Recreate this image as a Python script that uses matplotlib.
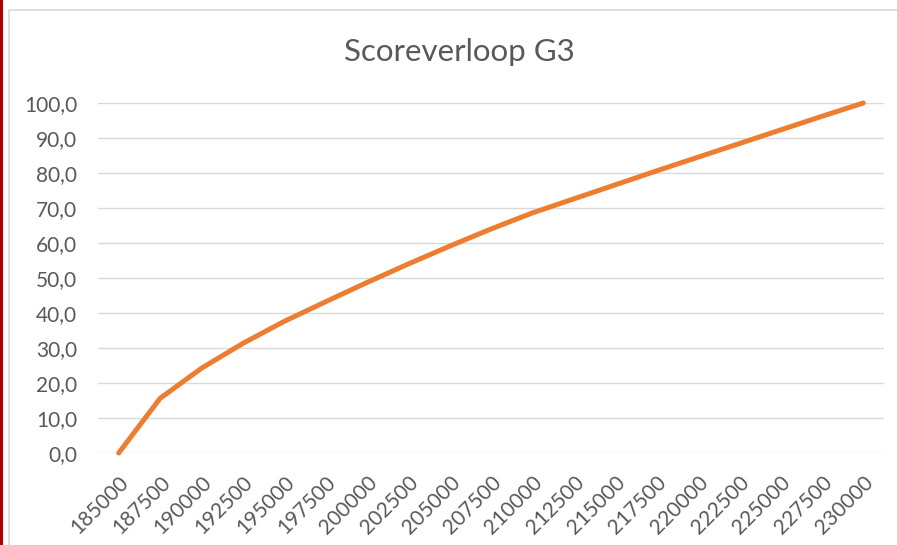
import numpy as np
import matplotlib
matplotlib.use('Agg')
from matplotlib import pyplot as plt
from matplotlib.patches import Rectangle

# Data

categories = [185000, 187500, 190000, 192500, 195000, 197500, 200000, 202500, 205000, 207500,
              210000, 212500, 215000, 217500, 220000, 222500, 225000, 227500, 230000]
scores = [0.0, 15.6, 24.2, 31.3, 37.6, 43.2, 48.7, 54.0, 59.1, 64.0,
          68.6, 72.6, 76.6, 80.6, 84.5, 88.4, 92.3, 96.2, 100.0]
y_ticks = [0, 10, 20, 30, 40, 50, 60, 70, 80, 90, 100]

plt.rcParams['font.family'] = ['Lato', 'DejaVu Sans']

text_col = '#595959'
grid_col = '#D9D9D9'
line_col = '#ED7D31'

fig = plt.figure(figsize=(8.97, 5.45), dpi=100)
ax = fig.add_axes([98 / 897, 1 - 453 / 545, 786 / 897, 350 / 545])

x_pos = np.arange(len(categories))
ax.plot(x_pos, scores, color=line_col, linewidth=3.6, solid_capstyle='round',
        solid_joinstyle='round', clip_on=False, zorder=3)

ax.set_xlim(-0.5, len(categories) - 0.5)
ax.set_ylim(0, 100)

ax.set_yticks(y_ticks)
ax.set_yticklabels([('%.1f' % v).replace('.', ',') for v in y_ticks])
ax.set_xticks(x_pos)
ax.set_xticklabels([str(c) for c in categories], rotation=45, ha='right', rotation_mode='anchor')

ax.tick_params(axis='both', length=0, colors=text_col, labelsize=15)
ax.tick_params(axis='y', pad=15)
ax.tick_params(axis='x', pad=14)

ax.grid(axis='y', color=grid_col, linewidth=1.0)
ax.set_axisbelow(True)
for side in ['top', 'right', 'left', 'bottom']:
    ax.spines[side].set_visible(False)

fig.text(459 / 897, 1 - 52 / 545, 'Scoreverloop G3', ha='center', va='center',
         fontsize=22.5, color=text_col)

# Chart frame and red page edge
fig.add_artist(Rectangle((9 / 897, -0.1), 1.0, 1 - 10 / 545 + 0.1, transform=fig.transFigure,
                         fill=False, edgecolor='#D9D9D9', linewidth=1.2))
fig.add_artist(Rectangle((0, 0), 3 / 897, 1, transform=fig.transFigure,
                         facecolor='#B00000', edgecolor='none'))

fig.savefig('out.png', dpi=100)
